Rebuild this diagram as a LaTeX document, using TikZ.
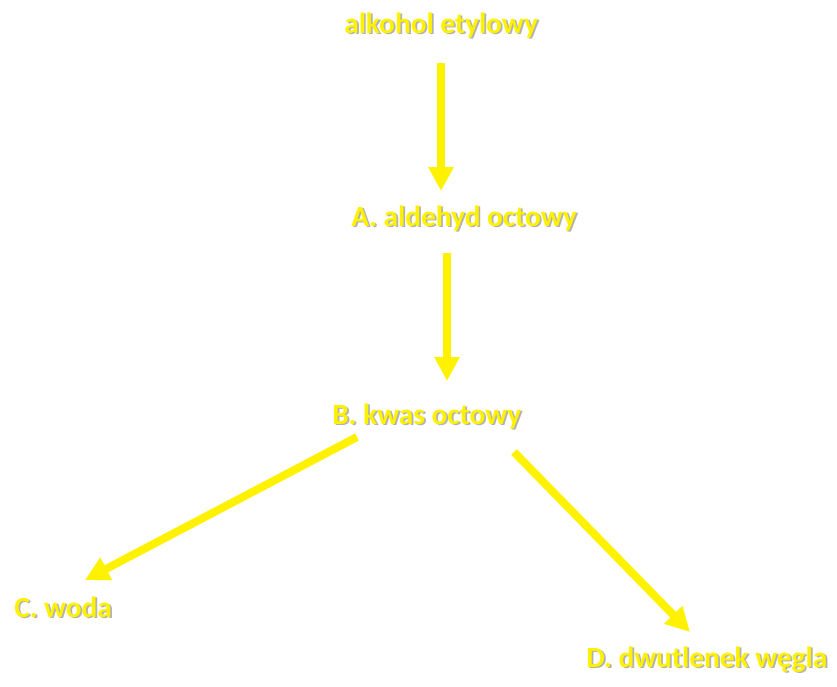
\documentclass[tikz,border=0pt]{standalone}
\usepackage{fontspec}
\setmainfont{Carlito}
\usetikzlibrary{arrows.meta}

\tikzset{
  lbl/.style = {anchor=base west, inner sep=0pt, text=yellow, font=\fontsize{22}{26}\selectfont\bfseries},
  lblshadow/.style = {lbl, text=black!30, xshift=1.3pt, yshift=-1.3pt},
  yarrow/.style = {draw=yellow, line width=6pt, -{Triangle[width=18pt,length=18pt]}, fill=yellow}
}

\begin{document}
\begin{tikzpicture}[x=0.75pt,y=-0.75pt]
  \useasboundingbox (0,0) rectangle (837,686);
  \node [lblshadow] (alk-s) at (344,33) {alkohol etylowy};
  \node [lbl] (alk) at (344,33) {alkohol etylowy};
  \node [lblshadow] (ald-s) at (351,226) {A. aldehyd octowy};
  \node [lbl] (ald) at (351,226) {A. aldehyd octowy};
  \node [lblshadow] (kw-s) at (332,424) {B. kwas octowy};
  \node [lbl] (kw) at (332,424) {B. kwas octowy};
  \node [lblshadow] (wo-s) at (14,617) {C. woda};
  \node [lbl] (wo) at (14,617) {C. woda};
  \node [lblshadow] (co-s) at (586,667) {D. dwutlenek węgla};
  \node [lbl] (co) at (586,667) {D. dwutlenek węgla};
  \coordinate (a1) at (441,63);
  \coordinate (b1) at (441,191);
  \coordinate (a2) at (447,253);
  \coordinate (b2) at (447,381);
  \coordinate (a3) at (357,437);
  \coordinate (b3) at (85,580);
  \coordinate (a4) at (514,452);
  \coordinate (b4) at (690,632);
  \draw [yarrow] (a1) -- (b1);
  \draw [yarrow] (a2) -- (b2);
  \draw [yarrow] (a3) -- (b3);
  \draw [yarrow] (a4) -- (b4);
\end{tikzpicture}
\end{document}
